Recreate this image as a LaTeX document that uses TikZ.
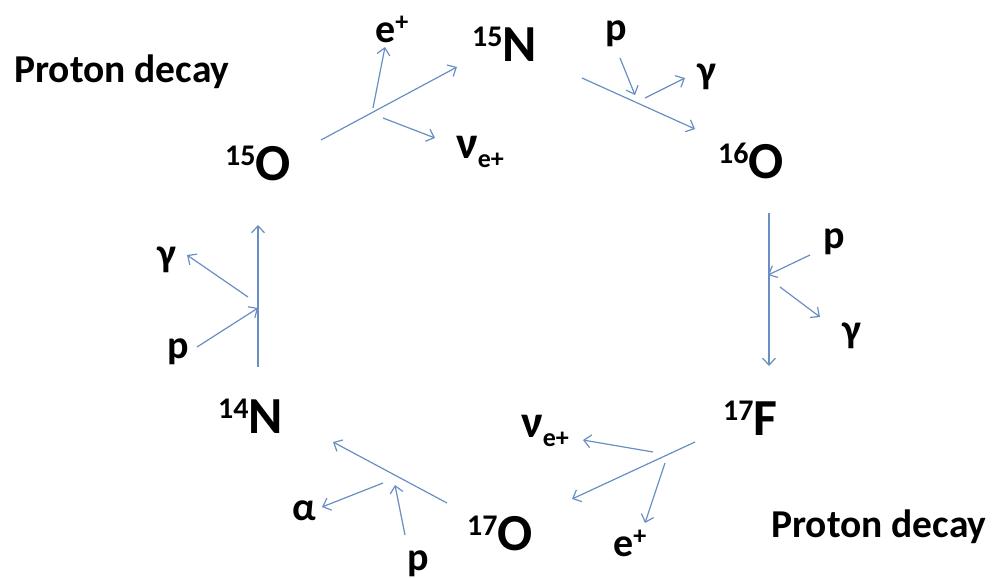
\documentclass[tikz,border=0pt]{standalone}
\usepackage{fontspec}
\setmainfont{Carlito}
\usetikzlibrary{arrows.meta}
\definecolor{arrowblue}{RGB}{105,142,195}
\newcommand{\nuc}[2]{\raisebox{15pt}{\fontsize{30}{30}\selectfont #1}{\fontsize{52}{52}\selectfont #2}}
\tikzset{
  nucl/.style={anchor=base west, inner sep=0pt, font=\bfseries},
  plabel/.style={anchor=base west, inner sep=0pt, font=\fontsize{40}{40}\selectfont\bfseries},
  title/.style={anchor=base west, inner sep=0pt, font=\fontsize{39.5}{39.5}\selectfont\bfseries},
  rx/.style={draw=arrowblue, line width=1.2pt, -{Straight Barb[length=7pt,width=13pt,line width=1.2pt]}},
}
\begin{document}
\begin{tikzpicture}[x=1pt,y=-1pt]
\useasboundingbox (0,0) rectangle (994,578);
% titles
\node[title] (pd1) at (14,82) {Proton decay};
\node[title] (pd2) at (771,537) {Proton decay};
% nuclei
\node[nucl] (N15) at (472,62) {\nuc{15}{N}};
\node[nucl] (O16) at (718,178) {\nuc{16}{O}};
\node[nucl] (O15) at (225,180) {\nuc{15}{O}};
\node[nucl] (N14) at (218,433) {\nuc{14}{N}};
\node[nucl] (F17) at (723,435) {\nuc{17}{F}};
\node[nucl] (O17) at (467,550) {\nuc{17}{O}};
% particle labels
\node[plabel] (ep1) at (375,43) {e\raisebox{12pt}{\fontsize{26}{26}\selectfont +}};
\node[plabel] (nu1) at (456,158) {{\fontsize{46}{46}\selectfont ν}\raisebox{-9pt}{\fontsize{26}{26}\selectfont e+}};
\node[plabel] (p1) at (605,41) {p};
\node[plabel] (g1) at (697,84) {γ};
\node[plabel] (p2) at (823,248) {p};
\node[plabel] (g2) at (842,342) {γ};
\node[plabel] (g3) at (157,266) {γ};
\node[plabel] (p3) at (167,358) {p};
\node[plabel] (al) at (292,520) {α};
\node[plabel] (p4) at (407,570) {p};
\node[plabel] (ep2) at (613,556) {e\raisebox{12pt}{\fontsize{26}{26}\selectfont +}};
\node[plabel] (nu2) at (521,437) {{\fontsize{46}{46}\selectfont ν}\raisebox{-9pt}{\fontsize{26}{26}\selectfont e+}};
% main reaction arrows
\coordinate (a1s) at (321,140); \coordinate (a1e) at (457,67);
\coordinate (a2s) at (582,78);  \coordinate (a2e) at (695,129);
\coordinate (a3s) at (769,213); \coordinate (a3e) at (769,366);
\coordinate (a4s) at (695,442); \coordinate (a4e) at (572,499);
\coordinate (a5s) at (447,503); \coordinate (a5e) at (333,442);
\coordinate (a6s) at (258,367); \coordinate (a6e) at (258,225);
\draw[rx] (a1s) -- (a1e);
\draw[rx] (a2s) -- (a2e);
\draw[rx] (a3s) -- (a3e);
\draw[rx] (a4s) -- (a4e);
\draw[rx] (a5s) -- (a5e);
\draw[rx] (a6s) -- (a6e);
% side arrows
\coordinate (s1s) at (373,108); \coordinate (s1e) at (385,47);
\coordinate (s2s) at (383,118); \coordinate (s2e) at (435,138);
\coordinate (s3s) at (620,58);  \coordinate (s3e) at (635,95);
\coordinate (s4s) at (645,98);  \coordinate (s4e) at (685,78);
\coordinate (s5s) at (810,255); \coordinate (s5e) at (768,275);
\coordinate (s6s) at (780,287); \coordinate (s6e) at (820,317);
\coordinate (s7s) at (197,347); \coordinate (s7e) at (258,308);
\coordinate (s8s) at (248,297); \coordinate (s8e) at (187,255);
\coordinate (s9s) at (383,483); \coordinate (s9e) at (322,507);
\coordinate (s10s) at (405,535); \coordinate (s10e) at (395,485);
\coordinate (s11s) at (653,452); \coordinate (s11e) at (583,440);
\coordinate (s12s) at (665,463); \coordinate (s12e) at (645,523);
\foreach \i in {1,...,12} { \draw[rx] (s\i s) -- (s\i e); }
\end{tikzpicture}
\end{document}
